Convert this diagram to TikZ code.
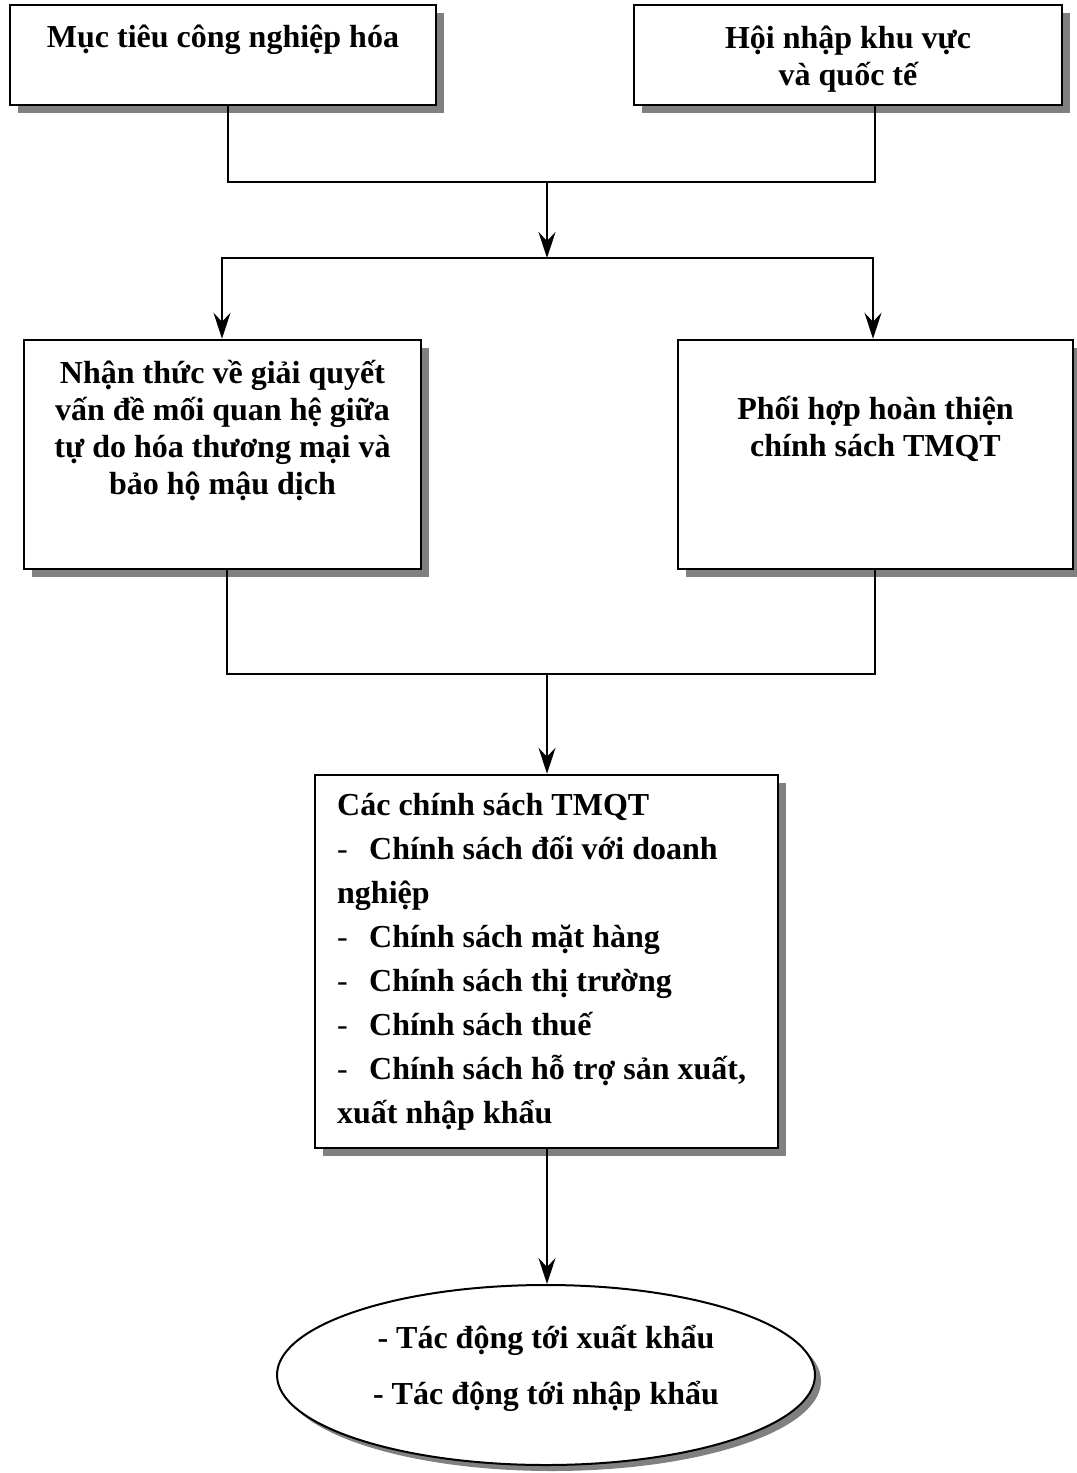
\documentclass[tikz,border=0pt]{standalone}
\usepackage{fontspec}
\setmainfont{Liberation Serif}
\usetikzlibrary{shapes.geometric,shadows,arrows.meta}
\begin{document}
\begin{tikzpicture}[x=1bp,y=-1bp,
  box/.style={draw=black,line width=2.5bp,fill=white,inner sep=0pt,
    drop shadow={shadow xshift=8bp,shadow yshift=-8bp,fill=black!50,opacity=1}},
  oval/.style={ellipse,draw=black,line width=2bp,fill=white,inner sep=0pt,
    drop shadow={shadow xshift=6bp,shadow yshift=-6bp,fill=black!50,opacity=1}},
  conn/.style={line width=2.2bp,line cap=rect},
  arr/.style={line width=2.2bp,-{Stealth[length=26bp,width=17bp,inset=9bp]}},
  txt/.style={inner sep=0pt,align=center,font=\fontsize{32bp}{37bp}\selectfont\bfseries},
  lst/.style={inner sep=0pt,align=left,font=\fontsize{32bp}{44bp}\selectfont\bfseries}]
\useasboundingbox (0,0) rectangle (1076,1473);
% boxes
\node[box,minimum width=426bp,minimum height=100bp] (b1) at (223,55) {};
\node[box,minimum width=428bp,minimum height=100bp] (b2) at (848,55) {};
\node[box,minimum width=397bp,minimum height=229bp] (b3) at (222.5,454.5) {};
\node[box,minimum width=395bp,minimum height=229bp] (b4) at (875.5,454.5) {};
\node[box,minimum width=463bp,minimum height=373bp] (b5) at (546.5,961.5) {};
\node[oval,minimum width=538bp,minimum height=180bp] (e) at (546,1375) {};
% texts
\node[txt] (t1) at (223,40) {Mục tiêu công nghiệp hóa};
\node[txt] (t2) at (848,59) {Hội nhập khu vực\\và quốc tế};
\node[txt] (t3) at (222.5,430) {Nhận thức về giải quyết\\vấn đề mối quan hệ giữa\\tự do hóa thương mại và\\bảo hộ mậu dịch};
\node[txt] (t4) at (875.5,429) {Phối hợp hoàn thiện\\chính sách TMQT};
\node[lst,anchor=north west] (t5) at (337,793) {Các chính sách TMQT\\
\makebox[32bp][l]{\mdseries -}Chính sách đối với doanh\\
nghiệp\\
\makebox[32bp][l]{\mdseries -}Chính sách mặt hàng\\
\makebox[32bp][l]{\mdseries -}Chính sách thị trường\\
\makebox[32bp][l]{\mdseries -}Chính sách thuế\\
\makebox[32bp][l]{\mdseries -}Chính sách hỗ trợ sản xuất,\\
xuất nhập khẩu};
\node[inner sep=0pt,align=center,font=\fontsize{32bp}{56bp}\selectfont\bfseries] (t6) at (546,1368) {- Tác động tới xuất khẩu\\- Tác động tới nhập khẩu};
% connectors
\coordinate (p1) at (228,182);
\coordinate (p2) at (875,182);
\coordinate (j1) at (547,182);
\coordinate (s1) at (222,258);
\coordinate (s2) at (873,258);
\coordinate (j2) at (547,258);
\coordinate (u1) at (227,674);
\coordinate (u2) at (875,674);
\coordinate (j3) at (547,674);
\draw[conn] (b1.south -| p1) -- (p1) -- (p2) -- (b2.south -| p2);
\draw[arr] (j1) -- (j2);
\draw[conn] (s1) -- (s2);
\draw[arr] (s1) -- (b3.north -| s1);
\draw[arr] (s2) -- (b4.north -| s2);
\draw[conn] (b3.south -| u1) -- (u1) -- (u2) -- (b4.south -| u2);
\draw[arr] (j3) -- (b5.north -| j3);
\draw[arr] (b5.south -| j3) -- (e.north -| j3);
\end{tikzpicture}
\end{document}
